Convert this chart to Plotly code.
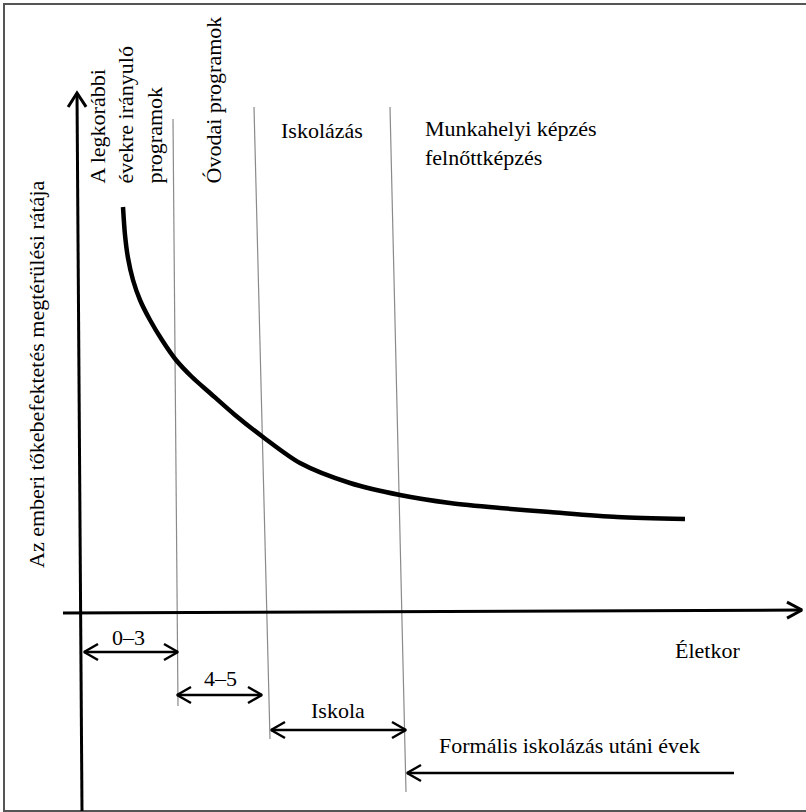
import math
import plotly.graph_objects as go

W, H = 806, 812
FONT = "Liberation Serif, Times New Roman, DejaVu Serif, serif"

# ---- data (page coordinates, y grows downward) ----
curve_x = [123, 125, 128, 133, 140, 150, 162, 176, 192, 210, 235, 263, 300, 350, 400, 450, 500, 550, 617, 685]
curve_y = [207, 235, 258, 280, 300, 320, 340, 360, 377, 393, 415, 437, 463, 483, 495, 503, 508, 512, 517, 519]

y_axis_x = [82, 77]
y_axis_y = [811, 93]
x_axis_x = [63, 802]
x_axis_y = [613, 610]

stage_x_top = [173, 254, 390]
stage_y_top = [119, 107, 107]
stage_x_bot = [178, 270, 406]
stage_y_bot = [706, 739, 792]

span_labels = ["0–3", "4–5", "Iskola"]
span_x0 = [84, 177, 271]
span_x1 = [178, 262, 406]
span_y = [652, 695, 730]
span_label_x = [128, 220, 338]
span_label_y = [637, 678, 710]

post_label = "Formális iskolázás utáni évek"
post_x = [734, 407]
post_y = [773, 773]

frame_x = [806, 4, 4, 806]
frame_y = [4, 4, 811, 811]

fig = go.Figure()


def line(xs, ys, width, color="black"):
    fig.add_trace(go.Scatter(x=xs, y=ys, mode="lines", hoverinfo="skip", cliponaxis=False,
                             line=dict(color=color, width=width), showlegend=False))


def head(tx, ty, fx, fy, L=14, w=8, width=2.5):
    d = math.hypot(tx - fx, ty - fy)
    ux, uy = (tx - fx) / d, (ty - fy) / d
    px, py = -uy, ux
    bx, by = tx - L * ux, ty - L * uy
    line([bx + w * px, tx, bx - w * px], [by + w * py, ty, by - w * py], width)


# frame
line(frame_x, frame_y, 2, "#555555")

# stage separators
for i in range(3):
    line([stage_x_top[i], stage_x_bot[i]], [stage_y_top[i], stage_y_bot[i]], 1.2, "#8a8a8a")

# axes
line(y_axis_x, y_axis_y, 3)
head(y_axis_x[1], y_axis_y[1], y_axis_x[0], y_axis_y[0], L=14, w=9, width=3)
line(x_axis_x, x_axis_y, 3)
head(x_axis_x[1], x_axis_y[1], x_axis_x[0], x_axis_y[0], L=15, w=8, width=3)

# curve
fig.add_trace(go.Scatter(x=curve_x, y=curve_y, mode="lines", hoverinfo="skip", showlegend=False,
                         line=dict(color="black", width=4.5, shape="spline", smoothing=0.8)))

# span arrows
for i in range(3):
    line([span_x0[i], span_x1[i]], [span_y[i], span_y[i]], 2.5)
    head(span_x0[i], span_y[i], span_x1[i], span_y[i])
    head(span_x1[i], span_y[i], span_x0[i], span_y[i])
line(post_x, post_y, 2.5)
head(post_x[1], post_y[1], post_x[0], post_y[0])

ann = []


def text(t, x, y, size=22, xanchor="center", yanchor="middle", angle=0, align="center"):
    ann.append(dict(text=t, x=x, y=y, xref="x", yref="y", showarrow=False,
                    xanchor=xanchor, yanchor=yanchor, textangle=angle, align=align,
                    font=dict(family=FONT, size=size, color="black")))


for i in range(3):
    text(span_labels[i], span_label_x[i], span_label_y[i])
text(post_label, 437, 745, xanchor="left")
text("Életkor", 673, 650, xanchor="left")
text("Az emberi tőkebefektetés megtérülési rátája", 36, 375, angle=-90)
text("A legkorábbi<br>évekre irányuló<br>programok", 125, 186, angle=-90, yanchor="bottom", align="left")
text("Óvodai programok", 213, 186, angle=-90, yanchor="bottom")
text("Iskolázás", 279, 130, xanchor="left")
text("Munkahelyi képzés<br>felnőttképzés", 423, 143, xanchor="left", align="left")

fig.update_layout(
    width=W, height=H, margin=dict(l=0, r=0, t=0, b=0, pad=0),
    paper_bgcolor="white", plot_bgcolor="white",
    xaxis=dict(range=[0, W], visible=False, fixedrange=True),
    yaxis=dict(range=[H, 0], visible=False, fixedrange=True),
    annotations=ann,
)

fig.write_html("out.html", config={"displayModeBar": False},
               post_script="document.body.style.margin='0';document.body.style.padding='0';")
